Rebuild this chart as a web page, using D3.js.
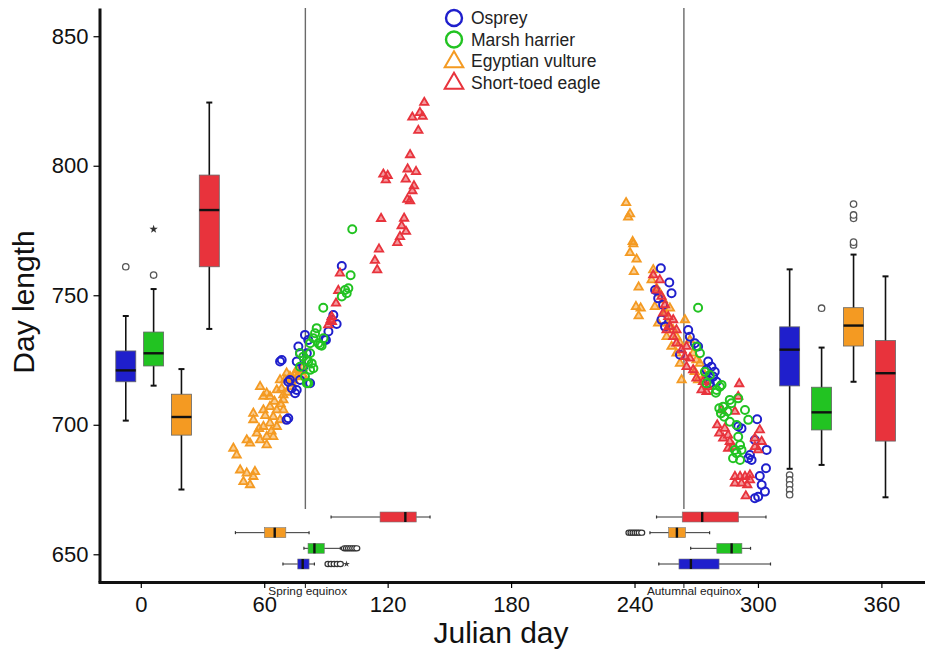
<!DOCTYPE html>
<html>
<head>
<meta charset="utf-8">
<script src="https://cdn.jsdelivr.net/npm/d3@7"></script>
<style>
body { margin: 0; background: #fff; }
svg { font-family: "Liberation Sans", Arial, sans-serif; }
</style>
</head>
<body>
<svg id="chart" width="925" height="651"></svg>
<script>
// Données
const species = ["Osprey", "Marsh harrier", "Egyptian vulture", "Short-toed eagle"]
const colors = ["#1f1fcc", "#22c322", "#f49a22", "#e8333c"]
const shapes = ["circle", "circle", "triangle", "triangle"]

const xTicks = [0, 60, 120, 180, 240, 300, 360]
const yTicks = [650, 700, 750, 800, 850]
const equinoxDays = [80, 264]
const equinoxLabels = ["Spring equinox", "Autumnal equinox"]

// durée du jour, boîtes verticales (printemps à gauche, automne à droite)
const springLength = [
    { lo: 701.6, q1: 716.6, med: 721, q3: 728.5, hi: 742, out: [761], ext: [] },
    { lo: 715.1, q1: 722.7, med: 727.6, q3: 735.8, hi: 752.4, out: [757.8], ext: [775.5] },
    { lo: 675, q1: 696, med: 703, q3: 711.8, hi: 721.5, out: [], ext: [] },
    { lo: 737, q1: 761, med: 782.9, q3: 796.4, hi: 824.4, out: [], ext: [] }
]
const autumnLength = [
    { lo: 683, q1: 715, med: 729, q3: 737.8, hi: 760, out: [680.6, 678.7, 676.8, 674.9, 673.0], ext: [] },
    { lo: 684.5, q1: 698, med: 704.8, q3: 714.5, hi: 729.8, out: [745], ext: [] },
    { lo: 716.6, q1: 730.4, med: 738.3, q3: 745.2, hi: 765.7, out: [769.4, 770.5, 779.7, 781, 785.2], ext: [] },
    { lo: 672, q1: 693.7, med: 719.9, q3: 732.5, hi: 757.3, out: [], ext: [] }
]

// jour julien, boîtes horizontales en bas
const springDay = [
    { lo: 69.1, q1: 76.3, med: 78.7, q3: 81.8, hi: 84.4, out: [91, 92.5, 94, 95.5, 97], ext: [100] },
    { lo: 79.3, q1: 81.3, med: 84.4, q3: 89.2, hi: 97, out: [99, 100, 101, 102, 103, 104, 105], ext: [] },
    { lo: 46, q1: 60.1, med: 65.1, q3: 70.5, hi: 81.8, out: [], ext: [] },
    { lo: 92.5, q1: 116.3, med: 128.6, q3: 133.9, hi: 140.6, out: [], ext: [] }
]
const autumnDay = [
    { lo: 251.8, q1: 261.6, med: 267.4, q3: 281.1, hi: 306.1, out: [], ext: [] },
    { lo: 267.3, q1: 280, med: 287.2, q3: 292.2, hi: 296.4, out: [], ext: [] },
    { lo: 247.5, q1: 256.6, med: 260.6, q3: 264.8, hi: 276.5, out: [237.3, 238.3, 239.3, 240.3, 241.3, 242.3, 243.5], ext: [] },
    { lo: 250.7, q1: 263.2, med: 272.9, q3: 290.6, hi: 303.9, out: [], ext: [] }
]

// points [jour, durée du jour]
const ospreyPts = [
    [67.7, 724.4], [68.5, 725.0], [71.7, 702.5], [70.9, 701.9], [71.7, 716.6], [73.4, 714.1], [75.0, 712.2],
    [75.8, 713.4], [75.8, 724.4], [76.6, 730.2], [77.4, 727.6], [77.4, 717.3], [79.0, 722.4], [79.8, 734.7],
    [80.7, 727.6], [81.4, 732.7], [82.3, 716.0], [89.6, 733.0], [90.0, 732.7], [91.2, 736.0], [92.8, 740.5],
    [93.6, 742.4], [95.2, 738.9], [97.7, 761.3], [72.5, 717.3],
    [252.8, 760.4], [256.9, 754.9], [250.0, 752.0], [251.5, 748.8], [253.9, 746.3], [258.0, 750.8], [253.1, 740.5],
    [254.8, 737.9], [262.1, 727.0], [266.1, 736.6], [266.9, 734.0], [269.3, 731.5], [270.9, 730.2], [275.8, 724.4],
    [277.4, 722.4], [279.0, 720.5], [275.0, 721.2], [276.6, 716.0], [279.9, 716.6], [278.2, 718.6], [275.8, 717.3],
    [299.6, 702.1], [298.5, 694.1], [304.2, 690.3], [296.1, 688.3], [295.3, 687.1], [296.9, 686.4], [303.9, 683.2],
    [300.9, 680.2], [301.8, 676.8], [303.4, 674.2], [300.1, 672.2], [298.5, 671.6], [292.0, 698.6], [290.4, 699.3]
]
const harrierPts = [
    [77.4, 722.4], [77.4, 727.6], [79.0, 726.3], [80.7, 725.0], [80.7, 716.0], [81.4, 724.4], [82.3, 727.6],
    [82.3, 731.5], [82.3, 721.2], [83.1, 723.7], [83.9, 733.4], [83.9, 721.8], [84.7, 735.3], [85.5, 737.3],
    [86.3, 731.5], [87.1, 730.8], [87.9, 730.5], [88.7, 745.2], [88.8, 733.4], [97.7, 749.5], [99.3, 752.0],
    [100.1, 750.8], [100.9, 752.7], [102.0, 757.7], [102.8, 775.5], [79.8, 718.6], [81.4, 716.0],
    [270.9, 745.2], [270.1, 730.2], [271.8, 727.6], [276.6, 719.2], [279.9, 713.4], [281.5, 714.7], [279.5, 712.4],
    [283.1, 707.0], [275.0, 716.0], [274.2, 720.5], [282.3, 715.4], [286.3, 709.6], [287.1, 708.3], [290.4, 710.2],
    [293.7, 705.7], [295.3, 701.9], [281.2, 706.4], [282.0, 704.4], [283.6, 703.1], [285.2, 705.1], [286.3, 701.2],
    [289.6, 699.9], [290.4, 695.4], [291.3, 692.2], [288.8, 690.3], [287.9, 687.1], [291.3, 686.4], [289.6, 689.0],
    [292.0, 690.3]
]
const vulturePts = [
    [58.0, 714.7], [59.6, 710.9], [61.2, 712.2], [62.8, 710.9], [66.1, 713.4], [69.3, 711.5], [70.1, 717.3],
    [70.9, 719.9], [72.5, 718.6], [75.8, 721.2], [77.4, 720.5], [67.7, 717.3], [54.7, 704.4], [59.6, 705.7],
    [62.8, 707.0], [66.1, 705.7], [69.3, 705.7], [54.7, 701.9], [59.6, 699.3], [64.4, 703.1], [67.7, 701.9],
    [62.8, 700.6], [66.1, 699.3], [56.4, 696.7], [61.2, 695.4], [64.4, 695.4], [51.5, 694.1], [53.1, 692.9],
    [58.0, 694.1], [61.2, 692.2], [45.0, 690.9], [46.6, 688.3], [48.3, 682.5], [51.5, 681.3], [49.9, 678.0],
    [53.1, 676.8], [55.5, 681.9], [54.7, 680.0], [69.3, 709.6], [72.5, 714.7], [74.2, 717.3], [68.5, 714.0],
    [71.0, 712.5], [73.5, 716.0], [76.0, 718.5], [78.5, 722.0], [65.0, 709.0], [63.5, 697.5], [57.5, 698.5],
    [60.5, 703.5], [68.0, 708.0], [75.0, 719.5], [79.0, 719.0],
    [235.9, 785.7], [237.8, 781.4], [236.9, 780.1], [239.1, 770.7], [239.4, 769.8], [237.8, 766.4], [241.0, 763.9],
    [239.7, 759.1], [242.0, 753.1], [240.7, 745.6], [243.0, 745.0], [242.0, 742.0], [249.1, 759.8], [248.3, 755.9],
    [250.7, 752.7], [249.9, 745.6], [253.9, 748.2], [254.8, 743.1], [257.2, 745.0], [256.4, 739.2], [258.8, 736.6],
    [260.4, 734.0], [262.1, 731.5], [264.5, 740.5], [258.0, 730.2], [260.4, 727.6], [262.1, 723.7], [262.9, 717.3],
    [266.9, 732.7], [268.5, 727.6], [270.1, 725.0], [271.8, 723.7], [269.3, 720.5], [274.2, 719.2], [270.9, 717.3],
    [252.3, 750.8], [255.6, 734.0], [251.5, 739.2]
]
const eaglePts = [
    [137.8, 824.4], [135.7, 820.5], [137.0, 819.0], [132.0, 818.7], [134.9, 813.6], [130.9, 804.2], [129.7, 798.7],
    [133.8, 797.7], [128.8, 794.8], [117.9, 796.7], [120.0, 796.2], [119.1, 794.5], [132.8, 792.2], [132.0, 790.3],
    [129.6, 787.0], [130.9, 786.4], [116.8, 779.6], [128.0, 779.7], [126.8, 776.8], [128.9, 774.6], [126.0, 772.6],
    [124.7, 770.3], [115.8, 767.8], [113.8, 763.4], [114.9, 759.8], [96.8, 758.5], [96.0, 751.8], [94.9, 746.9],
    [92.3, 740.5], [91.1, 738.5], [92.9, 739.8], [92.8, 741.7],
    [249.1, 757.8], [252.3, 755.9], [250.7, 752.0], [253.1, 749.5], [254.8, 746.3], [256.4, 741.7], [257.2, 737.9],
    [258.8, 734.0], [255.6, 736.6], [260.4, 731.5], [262.9, 728.9], [265.3, 730.2], [264.5, 726.3], [266.9, 725.7],
    [265.3, 722.4], [268.5, 721.2], [270.1, 718.0], [273.3, 716.6], [272.6, 713.4], [275.0, 712.8], [275.8, 714.7],
    [258.8, 740.5], [253.9, 743.1], [260.4, 736.6],
    [290.9, 715.8], [290.4, 710.9], [288.8, 705.1], [282.3, 705.7], [280.2, 699.9], [281.2, 696.7], [283.9, 698.6],
    [285.5, 696.0], [283.1, 694.8], [286.3, 693.5], [287.9, 691.5], [285.5, 690.9], [300.9, 698.0], [298.5, 694.8],
    [298.5, 691.5], [301.8, 693.5], [300.1, 690.3], [288.8, 680.0], [291.3, 680.0], [293.7, 680.0], [296.1, 680.6],
    [288.8, 677.4], [292.0, 677.4], [294.8, 676.8], [294.1, 672.5], [296.1, 678.7]
]
const points = [ospreyPts, harrierPts, vulturePts, eaglePts]
const drawOrder = [2, 0, 3, 1]

// -------------------------------------------------------------------------------

const svg = d3.select("#chart")

const x = d3.scaleLinear()
    .domain([-20.8, 381.2])
    .range([98, 925])

const y = d3.scaleLinear()
    .domain([639.3, 860.9])
    .range([582, 8])

// positions des boîtes
const leftPos = d3.scalePoint().domain(species).range([x(-7.3), x(33.3)])
const rightPos = d3.scalePoint().domain(species).range([x(315.4), x(362)])
const rowPos = d3.scalePoint().domain(species.slice().reverse()).range([517, 564])

// Lignes des équinoxes
svg.append("g")
    .selectAll("line")
    .data(equinoxDays)
    .enter()
    .append("line")
    .attr("x1", d => x(d))
    .attr("x2", d => x(d))
    .attr("y1", y(860.9))
    .attr("y2", 509)
    .attr("stroke", "#6a6a6a")
    .attr("stroke-width", 1.4)

// Nuages de points
const gPts = svg.append("g")
drawOrder.forEach(i => {
    const g = gPts.append("g")
    if (shapes[i] == "circle") {
        g.selectAll("circle")
            .data(points[i])
            .enter()
            .append("circle")
            .attr("cx", d => x(d[0]))
            .attr("cy", d => y(d[1]))
            .attr("r", 4)
            .attr("fill", "none")
            .attr("stroke", colors[i])
            .attr("stroke-width", 2)
    } else {
        g.selectAll("path")
            .data(points[i])
            .enter()
            .append("path")
            .attr("d", d3.symbol().type(d3.symbolTriangle).size(30))
            .attr("transform", d => `translate(${x(d[0])},${y(d[1])})`)
            .attr("fill", colors[i])
            .attr("fill-opacity", 0.5)
            .attr("stroke", colors[i])
            .attr("stroke-width", 1.8)
    }
})

// Boîtes verticales
function vBoxes(stats, pos) {
    const g = svg.append("g")
    stats.forEach((s, i) => {
        const cx = pos(species[i])
        const w = 10
        g.append("line")
            .attr("x1", cx).attr("x2", cx)
            .attr("y1", y(s.lo)).attr("y2", y(s.hi))
            .attr("stroke", "#111").attr("stroke-width", 1.6)
        ;[s.lo, s.hi].forEach(v => {
            g.append("line")
                .attr("x1", cx - 3).attr("x2", cx + 3)
                .attr("y1", y(v)).attr("y2", y(v))
                .attr("stroke", "#111").attr("stroke-width", 2)
        })
        g.append("rect")
            .attr("x", cx - w)
            .attr("y", y(s.q3))
            .attr("width", 2 * w)
            .attr("height", y(s.q1) - y(s.q3))
            .attr("fill", colors[i])
            .attr("stroke", "#666")
            .attr("stroke-width", 0.8)
        g.append("line")
            .attr("x1", cx - w).attr("x2", cx + w)
            .attr("y1", y(s.med)).attr("y2", y(s.med))
            .attr("stroke", "#111").attr("stroke-width", 2.4)
        g.selectAll(null)
            .data(s.out)
            .enter()
            .append("circle")
            .attr("cx", cx)
            .attr("cy", d => y(d))
            .attr("r", 3.2)
            .attr("fill", "#fff")
            .attr("stroke", "#555")
            .attr("stroke-width", 1.3)
        g.selectAll(null)
            .data(s.ext)
            .enter()
            .append("path")
            .attr("d", d3.symbol().type(d3.symbolStar).size(22))
            .attr("transform", d => `translate(${cx},${y(d)})`)
            .attr("fill", "#333")
    })
}
vBoxes(springLength, leftPos)
vBoxes(autumnLength, rightPos)

// Boîtes horizontales (jour julien)
function hBoxes(stats) {
    const g = svg.append("g")
    stats.forEach((s, i) => {
        const cy = rowPos(species[i])
        const h = 5
        g.append("line")
            .attr("x1", x(s.lo)).attr("x2", x(s.hi))
            .attr("y1", cy).attr("y2", cy)
            .attr("stroke", "#333").attr("stroke-width", 1)
        ;[s.lo, s.hi].forEach(v => {
            g.append("line")
                .attr("x1", x(v)).attr("x2", x(v))
                .attr("y1", cy - 1.5).attr("y2", cy + 1.5)
                .attr("stroke", "#333").attr("stroke-width", 1.2)
        })
        g.selectAll(null)
            .data(s.out)
            .enter()
            .append("ellipse")
            .attr("cx", d => x(d))
            .attr("cy", cy)
            .attr("rx", 3)
            .attr("ry", 2.6)
            .attr("fill", "#fff")
            .attr("stroke", "#333")
            .attr("stroke-width", 1.2)
        g.selectAll(null)
            .data(s.ext)
            .enter()
            .append("path")
            .attr("d", d3.symbol().type(d3.symbolStar).size(14))
            .attr("transform", d => `translate(${x(d)},${cy})`)
            .attr("fill", "#444")
        g.append("rect")
            .attr("x", x(s.q1))
            .attr("y", cy - h)
            .attr("width", x(s.q3) - x(s.q1))
            .attr("height", 2 * h)
            .attr("fill", colors[i])
            .attr("stroke", "#777")
            .attr("stroke-width", 0.6)
        g.append("line")
            .attr("x1", x(s.med)).attr("x2", x(s.med))
            .attr("y1", cy - h).attr("y2", cy + h)
            .attr("stroke", "#111").attr("stroke-width", 2.4)
    })
}
hBoxes(springDay)
hBoxes(autumnDay)

// Axes
const yAxis = svg.append("g")
    .attr("transform", "translate(99.5,0)")
    .call(d3.axisLeft(y).tickValues(yTicks).tickSize(6).tickPadding(5).tickSizeOuter(0))
yAxis.select(".domain").attr("stroke-width", 3).attr("stroke", "#111")
yAxis.selectAll(".tick line").attr("stroke-width", 1.2)
yAxis.selectAll("text")
    .attr("font-size", 22)
    .attr("font-family", "Liberation Sans, Arial, sans-serif")
    .attr("fill", "#111")

const xAxis = svg.append("g")
    .attr("transform", "translate(0,582)")
    .call(d3.axisBottom(x).tickValues(xTicks).tickSize(6).tickPadding(8).tickSizeOuter(0))
xAxis.select(".domain").attr("stroke-width", 3).attr("stroke", "#111")
xAxis.selectAll(".tick line").attr("stroke-width", 1.2)
xAxis.selectAll("text")
    .attr("font-size", 22)
    .attr("font-family", "Liberation Sans, Arial, sans-serif")
    .attr("fill", "#111")

// petites graduations et textes des équinoxes
const eq = svg.append("g")
eq.selectAll("line")
    .data(equinoxDays)
    .enter()
    .append("line")
    .attr("x1", d => x(d)).attr("x2", d => x(d))
    .attr("y1", 582).attr("y2", 588)
    .attr("stroke", "#111").attr("stroke-width", 1)
eq.selectAll("text")
    .data(equinoxDays)
    .enter()
    .append("text")
    .attr("x", d => x(d) - 37)
    .attr("y", 595)
    .attr("font-size", 11.8)
    .attr("fill", "#222")
    .text((d, i) => equinoxLabels[i])

// Titres des axes
svg.append("text")
    .attr("x", 501)
    .attr("y", 643)
    .attr("text-anchor", "middle")
    .attr("font-size", 30)
    .attr("fill", "#111")
    .text("Julian day")

svg.append("text")
    .attr("transform", "translate(34,302) rotate(-90)")
    .attr("text-anchor", "middle")
    .attr("font-size", 30)
    .attr("fill", "#111")
    .text("Day length")

// Légende
const legend = svg.append("g").attr("transform", "translate(454,18)")
species.forEach((s, i) => {
    const row = legend.append("g").attr("transform", `translate(0,${i * 21.5})`)
    if (shapes[i] == "circle") {
        row.append("circle")
            .attr("r", 8)
            .attr("fill", "none")
            .attr("stroke", colors[i])
            .attr("stroke-width", 2.4)
    } else {
        row.append("path")
            .attr("d", d3.symbol().type(d3.symbolTriangle).size(150))
            .attr("transform", "translate(0,1)")
            .attr("fill", "none")
            .attr("stroke", colors[i])
            .attr("stroke-width", 2)
    }
    row.append("text")
        .attr("x", 17)
        .attr("y", 6)
        .attr("font-size", 17.5)
        .attr("fill", "#222")
        .text(s)
})
</script>
</body>
</html>
